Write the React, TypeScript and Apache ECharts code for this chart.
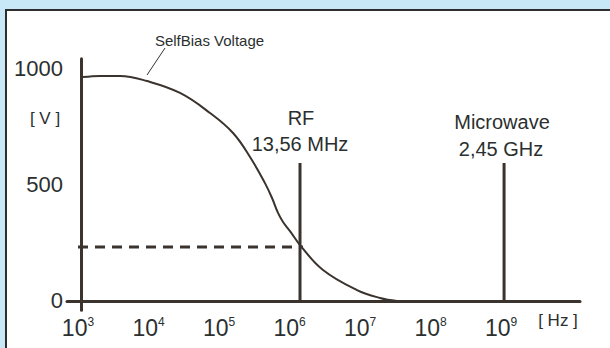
import React, { useEffect, useRef } from "react";
import * as echarts from "echarts";

// Self-bias voltage curve (frequency in Hz, voltage in V)
const curveFreq = [1178, 2051, 3945, 9528, 27990, 74470, 158100, 275400, 448700, 564900, 687100, 809100, 1016000, 1409000, 2985000, 9057000, 19230000, 33500000];
const curveVolt = [961, 966, 966, 944, 893, 807, 721, 618, 506, 442, 378, 339, 300, 240, 133, 47, 13, 0];

// Marker lines
const rfFreq = 1409000;
const rfTop = 592;
const microwaveFreq = 1104000000;
const microwaveTop = 592;
const dashStartFreq = 1000;
const dashEndFreq = 1550000;
const dashVolt = 232;

// Axis ranges and labels
const xMinExp = 2.844;
const xMaxExp = 10.12;
const xLabelExps = [3, 4, 5, 6, 7, 8, 9];
const yMin = -40;
const yMax = 1040;
const yLabels = [0, 500, 1000];

const DARK = "#3a332e";
const TEXT = "#2b2f2f";
const FONT = "'Liberation Sans', Arial, Helvetica, sans-serif";

export default function App() {
  const ref = useRef<HTMLDivElement>(null);
  useEffect(() => {
    if (!ref.current) return;
    const chart = echarts.init(ref.current, null, { renderer: "svg" });
    const curve = curveFreq.map((f, i) => [f, curveVolt[i]]);
    const txt = (text: string, x: number, y: number, size: number) => ({
      type: "text",
      x,
      y,
      z: 10,
      style: {
        text,
        fill: TEXT,
        fontSize: size,
        fontFamily: FONT,
        align: "center",
        verticalAlign: "middle",
      },
    });
    chart.setOption({
      animation: false,
      backgroundColor: "#c8e8f8",
      textStyle: { fontFamily: FONT },
      grid: { left: 67, right: 30, top: 58.7, bottom: 37.7, containLabel: false },
      xAxis: {
        type: "log",
        logBase: 10,
        min: Math.pow(10, xMinExp),
        max: Math.pow(10, xMaxExp),
        axisLine: { show: true, onZero: true, lineStyle: { color: DARK, width: 3 } },
        axisTick: { show: false },
        splitLine: { show: false },
        axisLabel: {
          showMinLabel: false,
          showMaxLabel: false,
          margin: 6,
          formatter: (v: number) => {
            const le = Math.log10(v);
            const e = Math.round(le);
            if (Math.abs(le - e) > 0.01 || xLabelExps.indexOf(e) < 0) return "";
            return "10{s|" + e + "}";
          },
          color: TEXT,
          fontSize: 23,
          fontFamily: FONT,
          lineHeight: 23,
          rich: {
            s: { fontSize: 12, lineHeight: 12, verticalAlign: "top", color: TEXT, fontFamily: FONT },
          },
        },
      },
      yAxis: {
        type: "value",
        min: yMin,
        max: yMax,
        interval: 20,
        offset: -14,
        axisLine: { show: true, onZero: false, lineStyle: { color: DARK, width: 3 } },
        axisTick: { show: false },
        splitLine: { show: false },
        axisLabel: {
          margin: 18,
          color: TEXT,
          fontSize: 22,
          fontFamily: FONT,
          formatter: (v: number) => (yLabels.indexOf(v) >= 0 ? String(v) : ""),
        },
      },
      graphic: [
        {
          type: "rect",
          z: -1,
          shape: { x: 6, y: 10, width: 640, height: 380 },
          style: { fill: "#ffffff", stroke: "#2e2e2e", lineWidth: 2 },
        },
        txt("SelfBias Voltage", 209.5, 40, 15),
        {
          type: "line",
          z: 10,
          shape: { x1: 165, y1: 48, x2: 147, y2: 75 },
          style: { stroke: DARK, lineWidth: 1 },
        },
        txt("[ V ]", 45, 118, 17),
        txt("RF", 301, 118, 20),
        txt("13,56 MHz", 300, 144, 20),
        txt("Microwave", 502, 122, 20),
        txt("2,45 GHz", 501, 149, 20),
        txt("[ Hz ]", 558, 320, 17),
      ],
      series: [
        {
          type: "line",
          data: curve,
          symbol: "none",
          smooth: 0.4,
          lineStyle: { color: DARK, width: 2 },
          z: 3,
        },
        {
          type: "line",
          data: [[rfFreq, 0], [rfFreq, rfTop]],
          symbol: "none",
          lineStyle: { color: DARK, width: 3 },
        },
        {
          type: "line",
          data: [[microwaveFreq, 0], [microwaveFreq, microwaveTop]],
          symbol: "none",
          lineStyle: { color: DARK, width: 3 },
        },
        {
          type: "line",
          data: [[dashStartFreq, dashVolt], [dashEndFreq, dashVolt]],
          symbol: "none",
          lineStyle: { color: DARK, width: 3, type: [10, 7] },
        },
      ],
    });
    return () => chart.dispose();
  }, []);
  return (
    <div
      ref={ref}
      style={{ position: "fixed", left: 0, top: 0, width: 610, height: 348 }}
    />
  );
}
